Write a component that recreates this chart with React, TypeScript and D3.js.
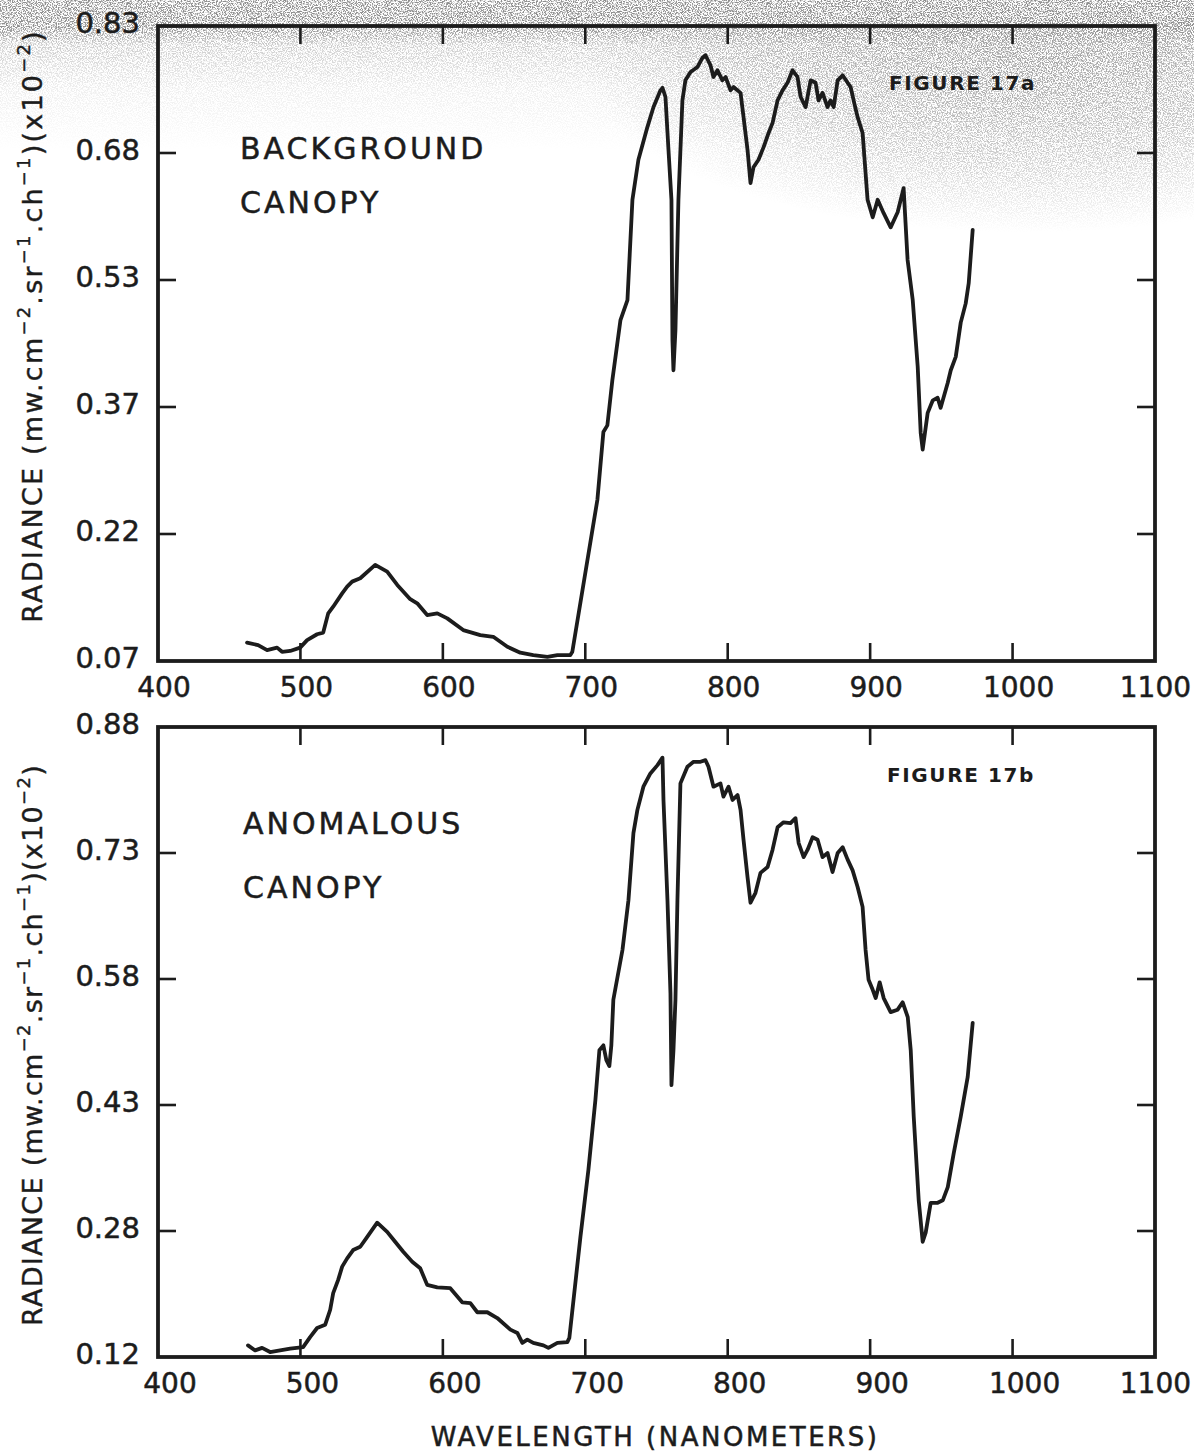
import React from "react";
import * as d3 from "d3";

// Wavelength axis (nanometers)
const X_TICKS = [400, 500, 600, 700, 800, 900, 1000, 1100];

// Radiance axis tick labels (mw.cm-2.sr-1.ch-1 x10-2), five equal divisions
const TOP_Y_LABELS = ["0.07", "0.22", "0.37", "0.53", "0.68", "0.83"];
const BOTTOM_Y_LABELS = ["0.12", "0.28", "0.43", "0.58", "0.73", "0.88"];
const TOP_Y_DOMAIN = [0.07, 0.83];
const BOTTOM_Y_DOMAIN = [0.12, 0.88];

// Figure 17a: background canopy spectrum
const BG_WAVELENGTH = [
  462.5, 470.3, 476.6, 483.6, 487.1, 492.8, 499.8, 504.7, 511.7, 516, 519.5, 523, 529.3, 532.8, 536.3, 542,
  552.5, 560.9, 568, 577.1, 582, 589, 596.1, 603.1, 614.3, 626.3, 635.4, 645.3, 654.4, 663.5, 673.4, 680.4,
  689.5, 690.9, 708.5, 712.7, 715.5, 719, 724.7, 729.6, 733.1, 737.3, 743.6, 747.9, 752.8, 754.2, 756.3,
  758.4, 760.5, 761.2, 761.9, 763.3, 765.4, 768.2, 770.3, 773.9, 778.8, 782.3, 784.4, 787.9, 790, 792.8,
  796.3, 798.5, 802, 804.1, 809, 811.1, 813.9, 816, 818.1, 821.6, 825.2, 828.7, 831.5, 835, 838.5, 842,
  845.5, 849, 851.2, 854.7, 858.2, 861.7, 863.8, 866.6, 870.1, 872.2, 874.4, 877.2, 880.7, 884.2, 886.3,
  888.4, 891.2, 894.7, 896.8, 898.2, 901.8, 905.3, 909.5, 914.4, 919.3, 923.5, 926.3, 929.9, 933.4, 935.5,
  936.9, 940.4, 944, 947.4, 949.5, 954.5, 956.6, 960.1, 963.6, 967.1, 969.2, 972,
];
const BG_RADIANCE = [
  0.092, 0.089, 0.083, 0.086, 0.081, 0.082, 0.086, 0.095, 0.102, 0.104, 0.127, 0.135, 0.151, 0.159, 0.165,
  0.169, 0.185, 0.177, 0.161, 0.144, 0.139, 0.125, 0.127, 0.121, 0.107, 0.101, 0.099, 0.087, 0.08, 0.077,
  0.075, 0.077, 0.077, 0.081, 0.263, 0.344, 0.352, 0.406, 0.478, 0.502, 0.622, 0.67, 0.709, 0.733, 0.753,
  0.756, 0.745, 0.682, 0.622, 0.454, 0.418, 0.466, 0.622, 0.741, 0.765, 0.775, 0.781, 0.792, 0.795, 0.783,
  0.769, 0.777, 0.765, 0.769, 0.753, 0.757, 0.75, 0.721, 0.682, 0.642, 0.661, 0.67, 0.685, 0.702, 0.714,
  0.741, 0.753, 0.762, 0.777, 0.769, 0.745, 0.733, 0.765, 0.762, 0.741, 0.75, 0.733, 0.741, 0.733, 0.765,
  0.771, 0.762, 0.757, 0.741, 0.721, 0.702, 0.654, 0.622, 0.601, 0.622, 0.606, 0.589, 0.607, 0.636, 0.55,
  0.502, 0.422, 0.343, 0.323, 0.367, 0.382, 0.385, 0.373, 0.403, 0.418, 0.434, 0.475, 0.498, 0.522, 0.586,
];

// Figure 17b: anomalous canopy spectrum
const AN_WAVELENGTH = [
  463.2, 468.2, 473.1, 478.7, 485.7, 492.8, 501.9, 506.8, 511.7, 517.4, 520.9, 523, 526.5, 529.3, 532.8,
  537, 542, 546.9, 553.9, 560.9, 566.5, 572.2, 578.5, 584.1, 589, 596.1, 605.2, 613.6, 619.3, 624.2, 631.2,
  638.2, 647.4, 652.3, 655.8, 659.3, 663.5, 670.6, 674.1, 680.4, 687.4, 688.8, 696.6, 702.2, 707.1, 709.9,
  712.7, 714.8, 716.9, 718.3, 719.7, 726.1, 730.3, 733.8, 736.6, 740.8, 745.7, 750.7, 754.2, 754.9, 757.7,
  759.8, 760.5, 761.9, 763.3, 764.7, 766.8, 771.7, 776, 780.9, 784.4, 786.5, 790, 794.9, 797, 800.6, 803.4,
  806.9, 809, 811.1, 813.9, 816, 819.5, 823, 828, 831.5, 835, 839.2, 844.1, 847.6, 849.8, 853.3, 856.1,
  859.6, 863.1, 866.6, 870.1, 873.6, 877.2, 880.7, 884.2, 887.7, 891.2, 894.7, 896.8, 898.9, 901.8, 903.9,
  906.7, 909.5, 914.4, 919.3, 922.8, 926.4, 928.5, 930.6, 934.1, 936.9, 939, 942.5, 947.4, 951, 954.5,
  958.7, 963.6, 968.5, 972,
];
const AN_RADIANCE = [
  0.134, 0.128, 0.131, 0.126, 0.128, 0.13, 0.132, 0.144, 0.155, 0.159, 0.177, 0.197, 0.213, 0.229, 0.239,
  0.249, 0.253, 0.265, 0.282, 0.271, 0.259, 0.247, 0.235, 0.227, 0.207, 0.204, 0.203, 0.186, 0.185, 0.174,
  0.174, 0.167, 0.153, 0.149, 0.137, 0.141, 0.137, 0.134, 0.131, 0.137, 0.138, 0.143, 0.265, 0.346, 0.43,
  0.49, 0.496, 0.478, 0.471, 0.496, 0.551, 0.611, 0.671, 0.752, 0.78, 0.808, 0.824, 0.834, 0.843, 0.792,
  0.671, 0.559, 0.448, 0.49, 0.551, 0.671, 0.812, 0.832, 0.838, 0.838, 0.84, 0.832, 0.808, 0.812, 0.796,
  0.808, 0.792, 0.798, 0.78, 0.744, 0.699, 0.668, 0.68, 0.704, 0.711, 0.732, 0.759, 0.765, 0.764, 0.77,
  0.74, 0.723, 0.732, 0.747, 0.744, 0.723, 0.728, 0.705, 0.728, 0.735, 0.72, 0.707, 0.687, 0.663, 0.611,
  0.575, 0.563, 0.553, 0.572, 0.553, 0.536, 0.539, 0.548, 0.53, 0.49, 0.41, 0.309, 0.259, 0.27, 0.306,
  0.306, 0.309, 0.325, 0.366, 0.41, 0.458, 0.523,
];

const INK = "#1c1c1c";
const FONT = "'DejaVu Sans', Verdana, sans-serif";

const WIDTH = 1194;
const HEIGHT = 1452;
const X_RANGE = [158, 1155];
const TICK_LEN = 18;
const X_LABEL_SIZE = 28;

type PanelProps = {
  top: number;
  bottom: number;
  yDomain: number[];
  yLabels: string[];
  wavelength: number[];
  radiance: number[];
  xLabelDx: number;
};

function Panel({ top, bottom, yDomain, yLabels, wavelength, radiance, xLabelDx }: PanelProps) {
  const x = d3.scaleLinear().domain([400, 1100]).range(X_RANGE);
  const y = d3.scaleLinear().domain(yDomain).range([bottom, top]);
  const [lo, hi] = yDomain;
  const yTickValues = yLabels.map((_, i) => lo + (i * (hi - lo)) / (yLabels.length - 1));
  const pts = wavelength.map((w, i) => [w, radiance[i]] as [number, number]);
  const line = d3
    .line<[number, number]>()
    .x((d) => x(d[0]))
    .y((d) => y(d[1]));
  const left = X_RANGE[0];
  const right = X_RANGE[1];
  const innerX = X_TICKS.slice(1, -1);
  const innerY = yTickValues.slice(1, -1);

  // keep the widest label inside the page
  const labelX = (t: number) => {
    const half = (String(t).length * 0.636 * X_LABEL_SIZE) / 2;
    return Math.min(x(t) + xLabelDx, WIDTH - half - 3);
  };

  return (
    <g>
      {/* frame */}
      <rect
        x={left}
        y={top}
        width={right - left}
        height={bottom - top}
        fill="none"
        stroke={INK}
        strokeWidth={3.8}
      />
      {/* inward ticks */}
      {innerX.map((t) => (
        <g key={"xt" + t} stroke={INK} strokeWidth={2.6}>
          <line x1={x(t)} x2={x(t)} y1={bottom} y2={bottom - TICK_LEN} />
          <line x1={x(t)} x2={x(t)} y1={top} y2={top + TICK_LEN} />
        </g>
      ))}
      {innerY.map((v, i) => (
        <g key={"yt" + i} stroke={INK} strokeWidth={2.6}>
          <line x1={left} x2={left + TICK_LEN} y1={y(v)} y2={y(v)} />
          <line x1={right} x2={right - TICK_LEN} y1={y(v)} y2={y(v)} />
        </g>
      ))}
      {/* tick labels */}
      <g fontFamily={FONT} fill={INK} stroke={INK} strokeWidth={0.5}>
        {X_TICKS.map((t) => (
          <text key={"xl" + t} x={labelX(t)} y={bottom + 36} textAnchor="middle" fontSize={X_LABEL_SIZE}>
            {t}
          </text>
        ))}
        {yTickValues.map((v, i) => (
          <text key={"yl" + i} x={140} y={y(v) + 7} textAnchor="end" fontSize={29}>
            {yLabels[i]}
          </text>
        ))}
      </g>
      {/* spectrum */}
      <path
        d={line(pts) || ""}
        fill="none"
        stroke={INK}
        strokeWidth={3.8}
        strokeLinejoin="round"
        strokeLinecap="round"
      />
    </g>
  );
}

function YTitle({ cx, cy, spacing }: { cx: number; cy: number; spacing: number }) {
  const sup = { fontSize: 18 };
  return (
    <text
      transform={`translate(${cx},${cy}) rotate(-90)`}
      textAnchor="middle"
      fontFamily={FONT}
      fontSize={27}
      letterSpacing={spacing}
      fill={INK}
      stroke={INK}
      strokeWidth={0.4}
    >
      <tspan>RADIANCE (mw.cm</tspan>
      <tspan dy={-12} style={sup}>−2</tspan>
      <tspan dy={12}>.sr</tspan>
      <tspan dy={-12} style={sup}>−1</tspan>
      <tspan dy={12}>.ch</tspan>
      <tspan dy={-12} style={sup}>−1</tspan>
      <tspan dy={12}>)(x10</tspan>
      <tspan dy={-12} style={sup}>−2</tspan>
      <tspan dy={12}>)</tspan>
    </text>
  );
}

export default function App() {
  return (
    <svg
      width={WIDTH}
      height={HEIGHT}
      viewBox={`0 0 ${WIDTH} ${HEIGHT}`}
      style={{ position: "absolute", left: 0, top: 0, background: "#fff" }}
    >
      <defs>
        <filter id="grain" x="0" y="0" width="100%" height="100%">
          <feTurbulence type="fractalNoise" baseFrequency="0.8" numOctaves={2} seed={7} />
          <feColorMatrix
            type="matrix"
            values="0 0 0 0 0.28  0 0 0 0 0.28  0 0 0 0 0.28  5.5 0 0 0 -2.4"
          />
        </filter>
        <linearGradient id="topFade" x1="0" y1="0" x2="0" y2="1">
          <stop offset="0" stopColor="#fff" stopOpacity={1} />
          <stop offset="0.18" stopColor="#fff" stopOpacity={1} />
          <stop offset="0.3" stopColor="#fff" stopOpacity={0.45} />
          <stop offset="0.6" stopColor="#fff" stopOpacity={0.15} />
          <stop offset="1" stopColor="#fff" stopOpacity={0} />
        </linearGradient>
        <radialGradient id="rightFade" cx="0.75" cy="0.2" r="0.65">
          <stop offset="0" stopColor="#fff" stopOpacity={0.75} />
          <stop offset="0.55" stopColor="#fff" stopOpacity={0.45} />
          <stop offset="1" stopColor="#fff" stopOpacity={0} />
        </radialGradient>
        <mask id="topMask">
          <rect x={0} y={0} width={WIDTH} height={150} fill="url(#topFade)" />
        </mask>
        <mask id="rightMask">
          <rect x={520} y={20} width={674} height={250} fill="url(#rightFade)" />
        </mask>
      </defs>

      <rect x={0} y={0} width={WIDTH} height={HEIGHT} fill="#fff" />
      {/* scan grain along the upper edge */}
      <rect x={0} y={0} width={WIDTH} height={150} filter="url(#grain)" mask="url(#topMask)" />
      <rect x={520} y={20} width={674} height={250} filter="url(#grain)" mask="url(#rightMask)" />

      <Panel
        top={26}
        bottom={661}
        yDomain={TOP_Y_DOMAIN}
        yLabels={TOP_Y_LABELS}
        wavelength={BG_WAVELENGTH}
        radiance={BG_RADIANCE}
        xLabelDx={6}
      />
      <Panel
        top={727}
        bottom={1357}
        yDomain={BOTTOM_Y_DOMAIN}
        yLabels={BOTTOM_Y_LABELS}
        wavelength={AN_WAVELENGTH}
        radiance={AN_RADIANCE}
        xLabelDx={12}
      />

      <g fontFamily={FONT} fill={INK} stroke={INK} strokeWidth={0.5}>
        <text x={240} y={159} fontSize={30} letterSpacing={3}>BACKGROUND</text>
        <text x={240} y={213} fontSize={30} letterSpacing={3}>CANOPY</text>
        <text x={243} y={834} fontSize={30} letterSpacing={3}>ANOMALOUS</text>
        <text x={243} y={898} fontSize={30} letterSpacing={3}>CANOPY</text>
        <text x={889} y={90} fontSize={20} fontWeight="bold" letterSpacing={1.6} strokeWidth={0}>
          FIGURE 17a
        </text>
        <text x={887} y={782} fontSize={20} fontWeight="bold" letterSpacing={1.6} strokeWidth={0}>
          FIGURE 17b
        </text>
        <text x={655} y={1446} fontSize={26} letterSpacing={2.5} textAnchor="middle">
          WAVELENGTH (NANOMETERS)
        </text>
      </g>

      <YTitle cx={42} cy={326} spacing={2.2} />
      <YTitle cx={42} cy={1045} spacing={1.3} />
    </svg>
  );
}
